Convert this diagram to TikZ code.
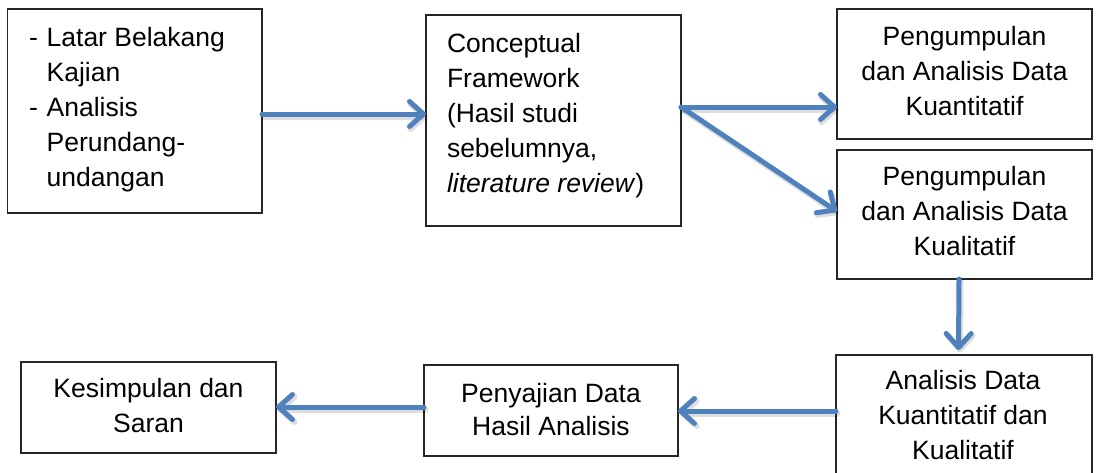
\documentclass[tikz,border=0pt]{standalone}
\usepackage{fontspec}
\setmainfont{Liberation Sans}
\usetikzlibrary{arrows.meta,calc}
\definecolor{flowblue}{RGB}{79,129,189}

% stacked lines whose first baseline is the box baseline
\newcommand\centrelines[2][35pt]{\vtop{\baselineskip=#1\lineskiplimit=-100pt\halign{\hfil##\hfil\cr#2\crcr}}}
\newcommand\leftlines[2][35pt]{\vtop{\baselineskip=#1\lineskiplimit=-100pt\halign{##\hfil\cr#2\crcr}}}
\newcommand\dashlines[2][35pt]{\vtop{\baselineskip=#1\lineskiplimit=-100pt\halign{\hbox to 17.7pt{##\hfil}&##\hfil\cr#2\crcr}}}
% a blue block arrow with a soft shadow underneath
\newcommand\flowarrow[2]{\draw[flowshade] #1 -- #2; \draw[flow] #1 -- #2;}

\begin{document}
\begin{tikzpicture}[x=1pt,y=-1pt,
  box/.style={draw=black!85, line width=1.2pt, fill=white, inner sep=0pt, outer sep=0pt},
  txt/.style={inner sep=0pt, outer sep=0pt, font=\fontsize{26.5pt}{35pt}\selectfont},
  flow/.style={draw=flowblue, line width=5pt, line cap=round,
    -{Straight Barb[length=14pt,width=25pt,round]}},
  flowshade/.style={draw=black, draw opacity=0.13, line width=6pt, line cap=round,
    -{Straight Barb[length=14pt,width=25pt,round]},
    transform canvas={shift={(1.5pt,-2.5pt)}}}
]
\fill[white] (0,0) rectangle (1099,472);
\useasboundingbox (0,0) rectangle (1099,472);

% boxes
\node[box, minimum width=254.5pt, minimum height=204pt] (b1) at (134.75,111) {};
\node[box, minimum width=255pt, minimum height=211pt] (b2) at (553.5,120.5) {};
\node[box, minimum width=255pt, minimum height=130pt] (b3) at (964.5,74) {};
\node[box, minimum width=255pt, minimum height=129pt] (b4) at (964.5,214.5) {};
\node[box, minimum width=256pt, minimum height=130pt] (b5) at (964,420) {};
\node[box, minimum width=254pt, minimum height=91pt] (b6) at (551,410.5) {};
\node[box, minimum width=255pt, minimum height=91pt] (b7) at (148.5,407.5) {};

% texts
\node[txt, anchor=base west] (t1) at (29,46.5)
  {\dashlines{-&Latar Belakang\cr&Kajian\cr-&Analisis\cr&Perundang-\cr&undangan}};
\node[txt, anchor=base west] (t2) at (447,52)
  {\leftlines{Conceptual\cr Framework\cr (Hasil studi\cr sebelumnya,\cr \textit{literature review})}};
\node[txt, anchor=base] (t3) at (964.5,45)
  {\centrelines{Pengumpulan\cr dan Analisis Data\cr Kuantitatif}};
\node[txt, anchor=base] (t4) at (964.5,185)
  {\centrelines{Pengumpulan\cr dan Analisis Data\cr Kualitatif}};
\node[txt, anchor=base] (t5) at (963,389)
  {\centrelines[35pt]{Analisis Data\cr Kuantitatif dan\cr Kualitatif}};
\node[txt, anchor=base] (t6) at (551,402)
  {\centrelines[33pt]{Penyajian Data\cr Hasil Analisis}};
\node[txt, anchor=base] (t7) at (148.5,397)
  {\centrelines[35pt]{Kesimpulan dan\cr Saran}};

% connectors
\coordinate (fork) at ([yshift=13.5pt]b2.east);
\flowarrow{([yshift=-3pt]b1.east)}{([yshift=-3pt]b1.east -| b2.west)}
\flowarrow{(fork)}{(fork -| b3.west)}
\flowarrow{(fork)}{([yshift=3pt]b4.west)}
\flowarrow{([xshift=-5.5pt]b4.south)}{([xshift=-5.5pt,yshift=5pt]b5.north)}
\flowarrow{([yshift=9pt]b5.west)}{([yshift=9pt]b5.west -| b6.east)}
\flowarrow{([yshift=3.5pt]b6.west)}{([yshift=3.5pt]b6.west -| b7.east)}
\end{tikzpicture}
\end{document}
